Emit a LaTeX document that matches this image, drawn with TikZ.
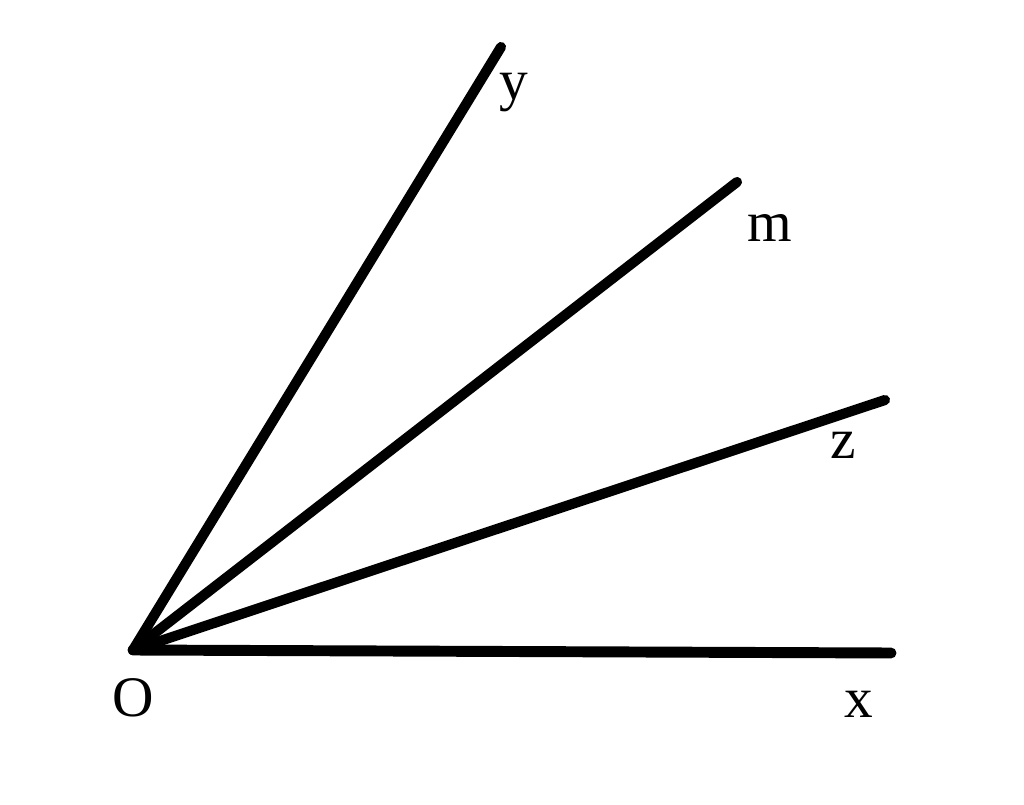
\documentclass[tikz,border=0pt]{standalone}
\usepackage{fontspec}
\setmainfont{Liberation Serif}
\begin{document}
\begin{tikzpicture}[x=0.75pt,y=-0.75pt,
  ray/.style={line width=7.6pt,line cap=round,black},
  lbl/.style={inner sep=0pt,anchor=base,font=\fontsize{43}{50}\selectfont}]
\useasboundingbox (0,0) rectangle (1024,805);
\coordinate (O) at (133,650);
\coordinate (X) at (891,653);
\coordinate (Y) at (501,47);
\coordinate (M) at (737,182);
\coordinate (Z) at (885,400);
\draw[ray,line width=8.2pt] (O) -- (X);
\draw[ray] (O) -- (Y);
\draw[ray] (O) -- (M);
\draw[ray] (O) -- (Z);
\node[lbl] (lO) at (133,716) {O};
\node[lbl] (lx) at (859,717) {x};
\node[lbl] (ly) at (514,100) {y};
\node[lbl] (lm) at (770,242) {m};
\node[lbl] (lz) at (843,458) {z};
\end{tikzpicture}
\end{document}
